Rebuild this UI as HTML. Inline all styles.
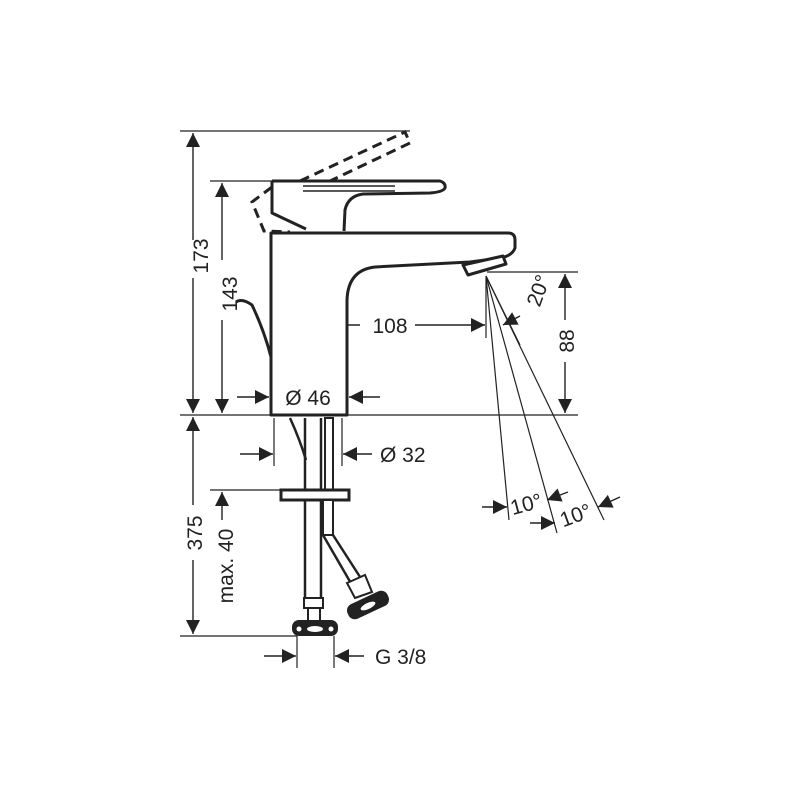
<!DOCTYPE html>
<html><head><meta charset="utf-8"><style>
html,body{margin:0;padding:0;background:#fff;width:800px;height:800px;overflow:hidden}
svg{display:block}
text{font-family:"Liberation Sans",sans-serif;fill:#222;font-size:21px}
</style></head><body>
<svg width="800" height="800" viewBox="0 0 800 800" xmlns="http://www.w3.org/2000/svg">
<defs>
<marker id="a" viewBox="0 0 10 10" refX="10" refY="5" markerWidth="16" markerHeight="14" markerUnits="userSpaceOnUse" orient="auto-start-reverse"><path d="M0,0 L10,5 L0,10z" fill="#222"/></marker>
</defs>
<g stroke="#222" fill="none" stroke-width="1.2">
<line x1="180" y1="131" x2="410" y2="131"/>
<line x1="210" y1="181" x2="275" y2="181"/>
<line x1="180" y1="415" x2="578" y2="415"/>
<line x1="487" y1="272" x2="578" y2="272"/>
<line x1="308" y1="312" x2="308" y2="340"/>
<line x1="486" y1="278" x2="486" y2="338"/>
<line x1="210" y1="490" x2="282" y2="490"/>
<line x1="180" y1="636" x2="297" y2="636"/>
<line x1="274" y1="418" x2="274" y2="466"/>
<line x1="342" y1="418" x2="342" y2="466"/>
<line x1="297" y1="636" x2="297" y2="668"/>
<line x1="334" y1="636" x2="334" y2="668"/>
<line x1="486" y1="276" x2="509" y2="520"/>
<line x1="486" y1="276" x2="557" y2="533"/>
<line x1="486" y1="276" x2="604" y2="520"/>
<line x1="486" y1="276" x2="520" y2="345"/>
</g>
<g stroke="#222" stroke-width="1.4" fill="none">
<line x1="193" y1="133" x2="193" y2="240" marker-start="url(#a)"/>
<line x1="193" y1="278" x2="193" y2="413" marker-end="url(#a)"/>
<line x1="222" y1="260" x2="222" y2="183" marker-end="url(#a)"/>
<line x1="222" y1="320" x2="222" y2="413" marker-end="url(#a)"/>
<line x1="360" y1="325" x2="309" y2="325" marker-end="url(#a)"/>
<line x1="415" y1="325" x2="485" y2="325" marker-end="url(#a)"/>
<line x1="237" y1="397" x2="269" y2="397" marker-end="url(#a)"/>
<line x1="380" y1="397" x2="349" y2="397" marker-end="url(#a)"/>
<line x1="565" y1="320" x2="565" y2="274" marker-end="url(#a)"/>
<line x1="565" y1="362" x2="565" y2="413" marker-end="url(#a)"/>
<line x1="520" y1="316" x2="503" y2="325" marker-end="url(#a)"/>
<line x1="482" y1="507" x2="507" y2="507" marker-end="url(#a)"/>
<line x1="568" y1="492" x2="547" y2="500" marker-end="url(#a)"/>
<line x1="530" y1="523" x2="555" y2="523" marker-end="url(#a)"/>
<line x1="620" y1="497" x2="598" y2="507" marker-end="url(#a)"/>
<line x1="240" y1="454" x2="273" y2="454" marker-end="url(#a)"/>
<line x1="372" y1="454" x2="343" y2="454" marker-end="url(#a)"/>
<line x1="193" y1="417" x2="193" y2="505" marker-start="url(#a)"/>
<line x1="193" y1="560" x2="193" y2="634" marker-end="url(#a)"/>
<line x1="222" y1="520" x2="222" y2="492" marker-end="url(#a)"/>
<line x1="264" y1="656" x2="296" y2="656" marker-end="url(#a)"/>
<line x1="364" y1="656" x2="335" y2="656" marker-end="url(#a)"/>
</g>
<g stroke="#222" stroke-width="3" fill="none" stroke-linejoin="round">
<path d="M271,415 L271,233 L508,233 Q515,233 515,240 L515,248 Q512,256 500,258 L470,262 L375,267 Q348,270 347,300 L347,415 Z" fill="#fff"/>
<path d="M463,265 L503,256 L506,264 L468,275 Z" fill="#fff"/>
<path d="M272,181 L440,181 Q446,183 445,188 Q443,192 430,193 L363,194 Q348,196 345,210 L344,231" />
<path d="M272,181 L272,213 L306,229"/>
<line x1="303" y1="186" x2="395" y2="186" stroke-width="1.5"/>
<line x1="303" y1="191" x2="395" y2="191" stroke-width="1.5"/>
<path d="M236,302 Q242,298 252,305 Q264,330 271,357" stroke-width="3"/>
</g>
<g stroke="#222" stroke-width="3" fill="none" stroke-dasharray="10,6">
<path d="M300,181 L405,132 L410,143 L330,181"/>
<path d="M272,187 L252,202 L264,231 L290,232"/>
</g>
<g stroke="#222" stroke-width="2.5" fill="#fff">
<line x1="305" y1="418" x2="305" y2="600"/>
<line x1="321" y1="418" x2="321" y2="600"/>
<path d="M290,418 Q300,440 306,460" fill="none"/>
<rect x="325" y="418" width="8" height="72" stroke-width="2"/>
<rect x="281" y="490" width="68" height="10" stroke-width="3"/>
<rect x="323" y="500" width="10" height="35" stroke-width="2"/>
<path d="M323,535 L352,585 M333,535 L362,580" fill="none"/>
<path d="M347,583 L365,575 L372,592 L355,598 Z" stroke-width="2"/>
<rect x="304" y="598" width="19" height="10" stroke-width="2"/>
<rect x="308" y="608" width="12" height="14" stroke-width="2"/>
</g>
<g fill="#222">
<rect x="292" y="620" width="46" height="16" rx="7"/>
<rect x="346" y="597" width="44" height="16" rx="7" transform="rotate(-25 368 605)"/>
</g>
<g fill="#fff">
<ellipse cx="315" cy="629" rx="8" ry="3"/>
<circle cx="299" cy="629" r="2.5"/><circle cx="331" cy="629" r="2.5"/>
<ellipse cx="368" cy="606" rx="8" ry="3" transform="rotate(-25 368 606)"/>
</g>
<text transform="translate(208,256) rotate(-90)" text-anchor="middle">173</text>
<text transform="translate(237,294) rotate(-90)" text-anchor="middle">143</text>
<text x="390" y="333" text-anchor="middle">108</text>
<text x="308" y="405" text-anchor="middle">Ø 46</text>
<text transform="translate(574,341) rotate(-90)" text-anchor="middle">88</text>
<text transform="translate(545,293) rotate(-70)" text-anchor="middle">20°</text>
<text transform="translate(528,511) rotate(-15)" text-anchor="middle">10°</text>
<text transform="translate(578,522) rotate(-20)" text-anchor="middle">10°</text>
<text x="380" y="462">Ø 32</text>
<text transform="translate(202,533) rotate(-90)" text-anchor="middle">375</text>
<text transform="translate(233,566) rotate(-90)" text-anchor="middle" font-size="20">max. 40</text>
<text x="375" y="664">G 3/8</text>
</svg>
</body></html>
